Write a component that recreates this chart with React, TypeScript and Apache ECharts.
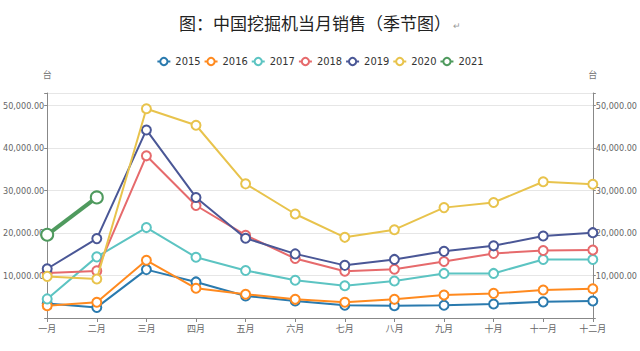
import React, { useEffect, useRef } from "react";
import * as echarts from "echarts";

const months = ["一月", "二月", "三月", "四月", "五月", "六月", "七月", "八月", "九月", "十月", "十一月", "十二月"];
const years = ["2015", "2016", "2017", "2018", "2019", "2020", "2021"];
const s2015 = [3400, 2500, 11400, 8500, 5200, 4000, 3000, 2900, 3000, 3300, 3800, 4000];
const s2016 = [2900, 3700, 13600, 7000, 5600, 4400, 3700, 4400, 5400, 5800, 6600, 6900];
const s2017 = [4500, 14400, 21300, 14300, 11200, 8900, 7600, 8700, 10500, 10500, 13800, 13800];
const s2018 = [10600, 11100, 38200, 26500, 19500, 14000, 11000, 11500, 13300, 15200, 15900, 16000];
const s2019 = [11600, 18700, 44300, 28400, 18800, 15100, 12400, 13800, 15700, 17000, 19300, 20100];
const s2020 = [9800, 9200, 49300, 45400, 31600, 24500, 19000, 20800, 26000, 27200, 32100, 31500];
const s2021 = [19600, 28400];
const colors = ["#2a7aae", "#ff8a1f", "#5cc4c2", "#e66a6c", "#4a5796", "#e8c34c", "#4f9a5e"];

const fmt = (v: number) =>
  v > 0 && v % 10000 === 0
    ? v.toLocaleString("en-US", { minimumFractionDigits: 2, maximumFractionDigits: 2 })
    : "";

export default function App() {
  const ref = useRef<HTMLDivElement>(null);
  useEffect(() => {
    if (!ref.current) return;
    const chart = echarts.init(ref.current, undefined, { renderer: "svg" });
    const all = [s2015, s2016, s2017, s2018, s2019, s2020, s2021];
    const labelFont = "'Liberation Sans Narrow', 'DejaVu Sans Condensed', 'Noto Sans CJK SC', sans-serif";
    const yAxisBase = (pos: "left" | "right") => ({
      type: "value",
      position: pos,
      min: 0,
      max: 53000,
      interval: 10000,
      name: "台",
      nameGap: 14,
      nameTextStyle: { color: "#777", fontSize: 9, fontFamily: "'Noto Sans CJK SC', sans-serif" },
      axisLine: { show: true, lineStyle: { color: "#888" } },
      axisTick: { show: true, length: 3, lineStyle: { color: "#888" } },
      axisLabel: { formatter: fmt, color: "#666", fontSize: 9, margin: 3, fontFamily: labelFont },
      splitLine: { show: pos === "left", lineStyle: { color: "#e6e6e6" } },
    });
    chart.setOption({
      animation: false,
      color: colors,
      title: {
        text: "{a|图：中国挖掘机当月销售（季节图）}{b|↵}",
        left: "center",
        top: 9,
        textStyle: {
          fontWeight: "normal",
          rich: {
            a: { fontSize: 17, fontWeight: "normal", color: "#222", fontFamily: "'Noto Sans CJK SC', sans-serif" },
            b: { fontSize: 9, color: "#999", verticalAlign: "bottom", padding: [6, 0, 0, 2] },
          },
        },
      },
      legend: {
        data: years,
        top: 51,
        left: "center",
        itemWidth: 13,
        itemHeight: 9,
        itemGap: 3,
        textStyle: { fontSize: 11, color: "#333", fontFamily: labelFont },
      },
      grid: { left: 38, right: 41, top: 93, bottom: 33 },
      xAxis: {
        type: "category",
        data: months,
        boundaryGap: false,
        axisLine: { lineStyle: { color: "#888" } },
        axisTick: { alignWithLabel: true, length: 4, lineStyle: { color: "#888" } },
        axisLabel: { color: "#666", fontSize: 9, margin: 6, fontFamily: "'Noto Sans CJK SC', sans-serif" },
      },
      yAxis: [yAxisBase("left"), yAxisBase("right")],
      series: years.map((y, i) => ({
        name: y,
        type: "line",
        data: all[i],
        yAxisIndex: 0,
        symbol: "emptyCircle",
        symbolSize: i === 6 ? 12 : 9,
        lineStyle: { width: i === 6 ? 4 : 2, color: colors[i] },
        itemStyle: { color: colors[i], borderWidth: i === 6 ? 2.5 : 1 },
        z: 2 + i,
      })),
    });
    return () => chart.dispose();
  }, []);
  return (
    <div
      ref={ref}
      style={{ position: "fixed", left: 0, top: 0, width: 640, height: 351, background: "#fff" }}
    />
  );
}
